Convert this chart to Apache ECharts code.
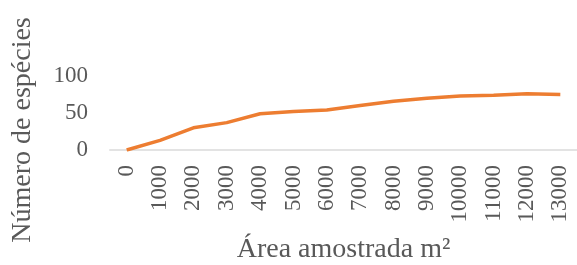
<!DOCTYPE html>
<html>
<head>
<meta charset="utf-8">
<script src="https://cdn.jsdelivr.net/npm/echarts@6/dist/echarts.min.js"></script>
<style>
  html, body { margin: 0; padding: 0; background: #fff; }
  #chart { width: 577px; height: 265px; }
</style>
</head>
<body>
<div id="chart"></div>
<script>
// área amostrada (m²) e número acumulado de espécies
const areas = ['0', '1000', '2000', '3000', '4000', '5000', '6000', '7000',
  '8000', '9000', '10000', '11000', '12000', '13000'];
const especies = [0, 13, 30, 37, 49, 52, 54, 60, 66, 70, 73, 74, 76, 75];
const yTicks = { min: 0, max: 100, interval: 50 };

const serif = '"Liberation Serif", "Times New Roman", serif';
const grey = '#595959';

const chart = echarts.init(document.getElementById('chart'));
chart.setOption({
  animation: false,
  grid: { left: 110, right: -9, top: 76, bottom: 115, containLabel: false },
  xAxis: {
    type: 'category',
    data: areas,
    boundaryGap: true,
    name: 'Área amostrada m²',
    nameLocation: 'middle',
    nameGap: 86,
    nameTextStyle: { fontFamily: serif, fontSize: 28, color: grey },
    axisLine: { lineStyle: { color: '#e3e3e3', width: 2 } },
    axisTick: { show: false },
    axisLabel: {
      rotate: 90, interval: 0, margin: 15,
      fontFamily: serif, fontSize: 23, color: grey
    },
    splitLine: { show: false }
  },
  yAxis: {
    type: 'value',
    min: yTicks.min,
    max: yTicks.max,
    interval: yTicks.interval,
    name: 'Número de espécies',
    nameLocation: 'middle',
    nameGap: 73,
    nameTextStyle: {
      fontFamily: serif, fontSize: 28, color: grey,
      padding: [0, 34, 0, 0]
    },
    axisLine: { show: false },
    axisTick: { show: false },
    axisLabel: { margin: 22, fontFamily: serif, fontSize: 23, color: grey },
    splitLine: { show: false }
  },
  series: [{
    type: 'line',
    data: especies,
    symbol: 'none',
    lineStyle: { color: '#ED7D31', width: 3.5 },
    itemStyle: { color: '#ED7D31' }
  }]
});
</script>
</body>
</html>
